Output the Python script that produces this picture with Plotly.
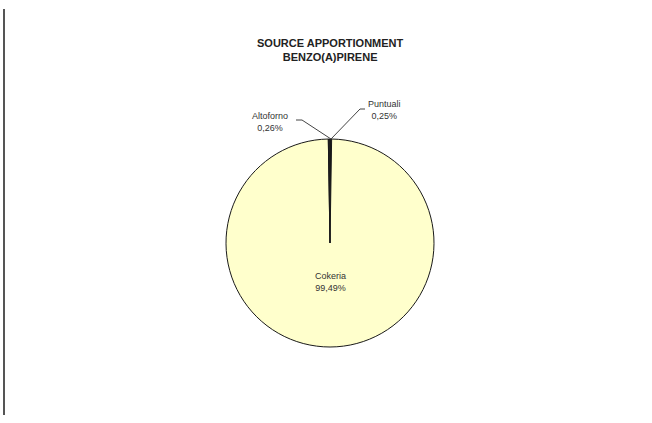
import plotly.graph_objects as go

# Source apportionment of benzo(a)pyrene
sources = ["Puntuali", "Cokeria", "Altoforno"]
shares = [0.25, 99.49, 0.26]
colors = ["#111111", "#FFFFCC", "#222222"]

W, H = 652, 423


def px(x):
    return x / W


def py(y):
    return 1 - y / H


def fmt(v):
    return f"{v:.2f}".replace(".", ",") + "%"


# pie placed in pixel coordinates: centre (330, 243), radius 104
cx, cy, r = 330, 243, 104

fig = go.Figure(
    go.Pie(
        labels=sources,
        values=shares,
        sort=False,
        direction="clockwise",
        rotation=0,
        marker=dict(colors=colors, line=dict(color="#1a1a1a", width=1)),
        textinfo="none",
        hoverinfo="label+percent",
        showlegend=False,
        domain=dict(x=[px(cx - r), px(cx + r)], y=[py(cy + r), py(cy - r)]),
    )
)

label_font = dict(family="Liberation Sans, Arial, sans-serif", size=9, color="#333333")
annotations = [
    dict(x=px(330), y=py(50), text="<b>SOURCE APPORTIONMENT<br>BENZO(A)PIRENE</b>",
         font=dict(family="Liberation Sans, Arial, sans-serif", size=11, color="#222222")),
]
label_pos = {"Puntuali": (384, 110), "Cokeria": (330, 282), "Altoforno": (270, 122)}
for name, val in zip(sources, shares):
    x, y = label_pos[name]
    annotations.append(dict(x=px(x), y=py(y), text=f"{name}<br>{fmt(val)}", font=label_font))
for a in annotations:
    a.update(xref="paper", yref="paper", showarrow=False, xanchor="center", yanchor="middle")

line_style = dict(color="#444444", width=1)
shapes = [
    # leader lines
    dict(type="path", path=f"M {px(296)},{py(120)} L {px(302)},{py(120)} L {px(331)},{py(139)}",
         line=line_style),
    dict(type="path", path=f"M {px(365)},{py(109)} L {px(360)},{py(109)} L {px(331)},{py(139)}",
         line=line_style),
    # left border rule
    dict(type="line", x0=px(4), x1=px(4), y0=py(9), y1=py(415), line=dict(color="#555555", width=2)),
]
for s in shapes:
    s.update(xref="paper", yref="paper")

fig.update_layout(
    width=W,
    height=H,
    margin=dict(l=0, r=0, t=0, b=0),
    paper_bgcolor="white",
    plot_bgcolor="white",
    annotations=annotations,
    shapes=shapes,
)

fig.write_html("out.html")
